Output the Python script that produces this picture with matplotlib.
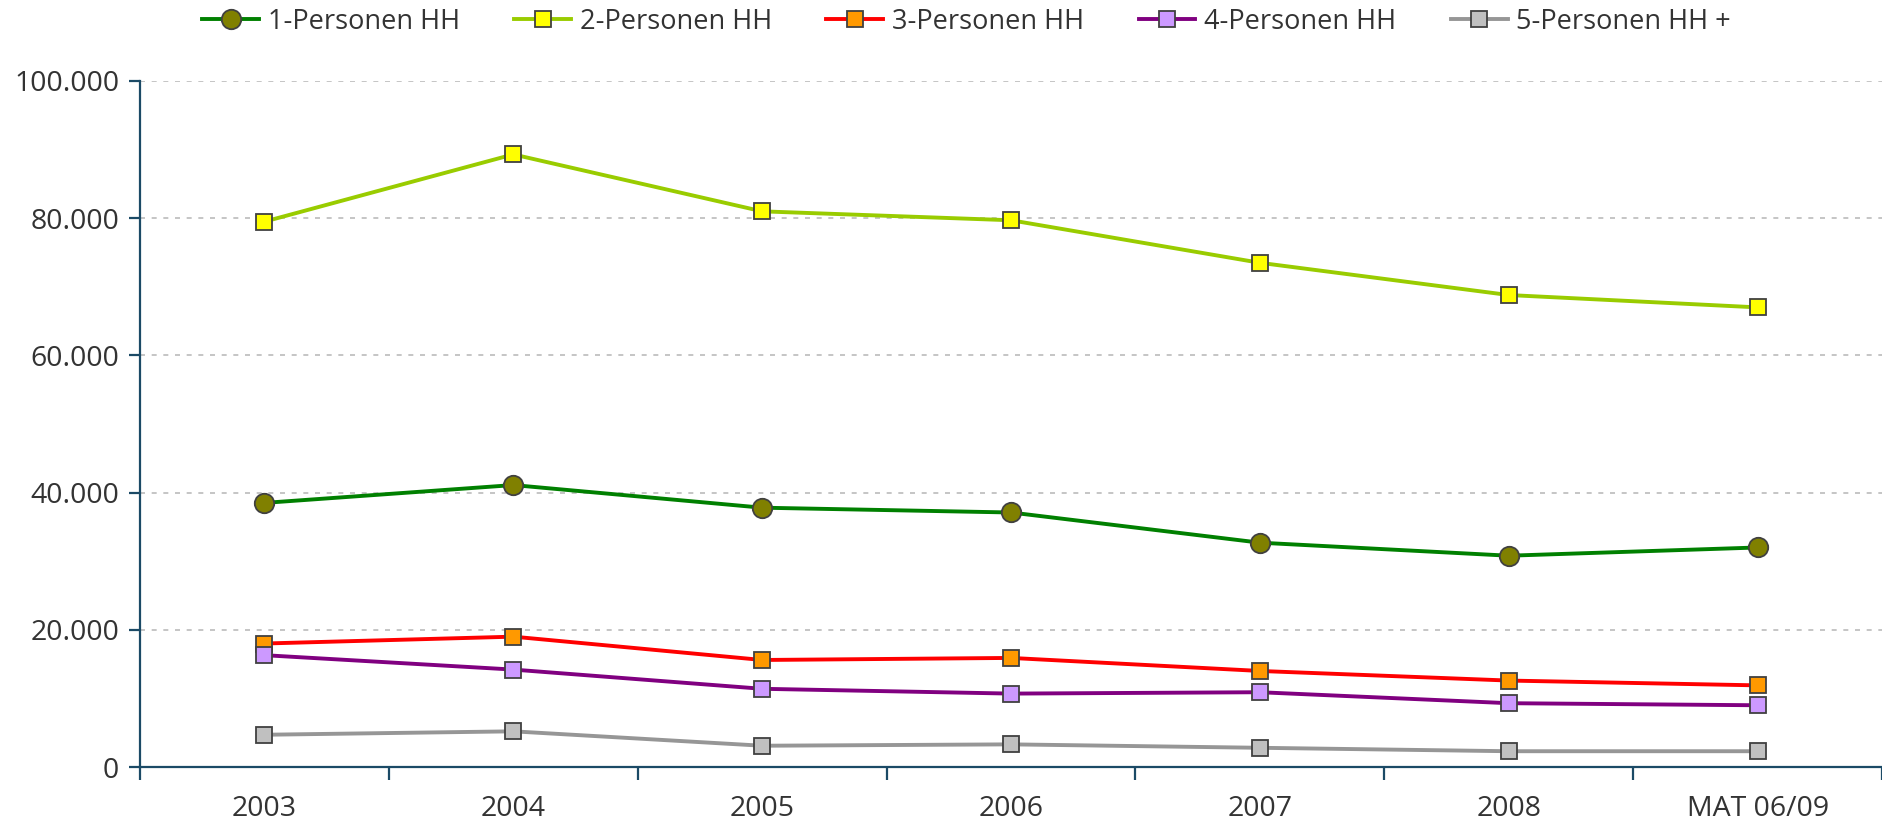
import matplotlib.pyplot as plt
import matplotlib.ticker as mticker
import numpy as np

plt.rcParams['font.family'] = ['Open Sans', 'DejaVu Sans']

# Daten
jahre = ['2003', '2004', '2005', '2006', '2007', '2008', 'MAT 06/09']
hh_1 = [38500, 41100, 37800, 37100, 32700, 30800, 32000]
hh_2 = [79500, 89300, 81000, 79700, 73500, 68800, 67000]
hh_3 = [18000, 19000, 15600, 15900, 14000, 12600, 11900]
hh_4 = [16300, 14200, 11400, 10700, 10900, 9300, 9000]
hh_5 = [4700, 5200, 3100, 3300, 2800, 2300, 2300]

namen = ['1-Personen HH', '2-Personen HH', '3-Personen HH', '4-Personen HH', '5-Personen HH +']
linienfarben = ['#008000', '#99CC00', '#FF0000', '#800080', '#969696']
markerfarben = ['#808000', '#FFFF00', '#FF9900', '#CC99FF', '#C0C0C0']
marker = ['o', 's', 's', 's', 's']

fig = plt.figure(figsize=(18.82, 8.25), dpi=100)
ax = fig.add_axes([140 / 1882, 1 - 767 / 825, 1 - 140 / 1882, (767 - 81) / 825])

x = np.arange(len(jahre))
for werte, name, lc, mc, m in zip([hh_1, hh_2, hh_3, hh_4, hh_5], namen, linienfarben, markerfarben, marker):
    ax.plot(x, werte, color=lc, lw=2.8, marker=m, markersize=14 if m == 'o' else 11.5,
            markerfacecolor=mc, markeredgecolor='#404040', markeredgewidth=1.3,
            label=name, zorder=3)

ax.set_xlim(-0.5, len(jahre) - 0.5)
ax.set_ylim(0, 100000)

# Achsen
achsenfarbe = '#1B4A66'
for s in ['top', 'right']:
    ax.spines[s].set_visible(False)
for s in ['left', 'bottom']:
    ax.spines[s].set_color(achsenfarbe)
    ax.spines[s].set_linewidth(1.6)

ax.yaxis.set_major_locator(mticker.MultipleLocator(20000))
ax.yaxis.set_major_formatter(mticker.FuncFormatter(lambda v, p: f'{int(v):,}'.replace(',', '.')))
ax.tick_params(axis='y', length=8, width=1.6, color=achsenfarbe, labelsize=20.5,
               labelcolor='#333333', pad=7)

ax.set_xticks(x)
ax.set_xticklabels(jahre)
ax.set_xticks(np.arange(-0.5, len(jahre), 1.0), minor=True)
ax.tick_params(axis='x', which='major', length=0, labelsize=20.5, labelcolor='#333333', pad=20)
ax.tick_params(axis='x', which='minor', length=9, width=1.6, color=achsenfarbe)

ax.grid(axis='y', color='#BBBBBB', linestyle=(0, (3, 4)), linewidth=1.2, zorder=0)
ax.set_axisbelow(True)

fig.legend(loc='upper center', bbox_to_anchor=(0.5136, 1.02), ncol=5, frameon=False,
           fontsize=19.5, handlelength=2.1, handletextpad=0.33, columnspacing=2.0,
           labelcolor='#333333')

plt.savefig('out.png', dpi=100)
